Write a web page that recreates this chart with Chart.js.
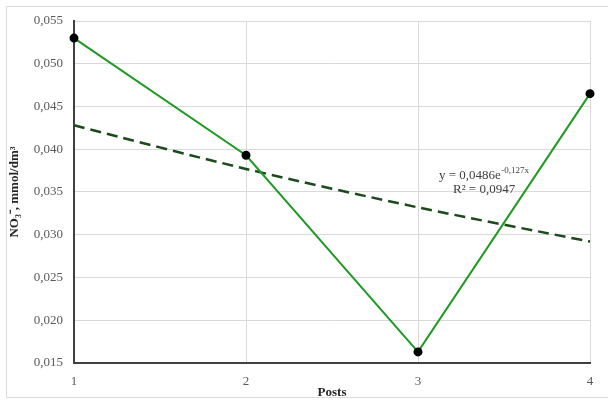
<!DOCTYPE html>
<html lang="en">
<head>
<meta charset="UTF-8">
<title>NO3- by posts</title>
<script src="https://cdn.jsdelivr.net/npm/chart.js"></script>
<style>
    body { margin: 0; background: #fff; }
    #wrap { width: 608px; height: 401px; }
</style>
</head>
<body>
<div id="wrap"><canvas id="no3Chart" width="608" height="401"></canvas></div>

<script>
    // values
    const posts = ['1', '2', '3', '4'];
    const no3Values = [0.0530, 0.0393, 0.0163, 0.0465];
    const trendValues = [0.0428, 0.0377, 0.0332, 0.0292]; // exponential trendline
    const yTicks = [0.015, 0.020, 0.025, 0.030, 0.035, 0.040, 0.045, 0.050, 0.055];

    const serif = "'Liberation Serif', 'Times New Roman', serif";

    // frame around the whole chart + trendline equation
    const decor = {
        id: 'decor',
        beforeDraw(chart) {
            const c = chart.ctx;
            c.save();
            c.fillStyle = '#fff';
            c.fillRect(0, 0, chart.width, chart.height);
            c.strokeStyle = '#d9d9d9';
            c.lineWidth = 1;
            c.beginPath();
            c.moveTo(chart.width, 6.5);
            c.lineTo(6.5, 6.5);
            c.lineTo(6.5, 397.5);
            c.lineTo(chart.width, 397.5);
            c.stroke();
            c.restore();
        },
        afterDraw(chart) {
            const c = chart.ctx;
            c.save();
            c.fillStyle = '#404040';
            c.textBaseline = 'alphabetic';
            c.font = '13px ' + serif;
            const main = 'y = 0,0486e';
            c.fillText(main, 439, 179);
            const w = c.measureText(main).width;
            c.font = '9px ' + serif;
            c.fillText('-0,127x', 439 + w + 0.5, 173);
            c.font = '13px ' + serif;
            c.fillText('R² = 0,0947', 453, 193);
            c.restore();
        }
    };

    new Chart(document.getElementById('no3Chart'), {
        type: 'line',
        data: {
            labels: posts,
            datasets: [{
                label: 'NO3-',
                data: no3Values,
                borderColor: '#1f9a23',
                borderWidth: 2,
                pointBackgroundColor: '#000',
                pointBorderColor: '#000',
                pointRadius: 3.5,
                tension: 0,
                order: 1
            }, {
                label: 'Trend',
                data: trendValues,
                borderColor: '#1b4a1b',
                borderWidth: 2.5,
                borderDash: [11, 6],
                pointRadius: 0,
                tension: 0.3,
                order: 2
            }]
        },
        options: {
            responsive: false,
            animation: false,
            layout: { padding: { left: 0, top: 21, right: 18, bottom: 0 } },
            plugins: {
                legend: { display: false },
                tooltip: { enabled: false }
            },
            scales: {
                x: {
                    offset: false,
                    afterFit(s) { s.height = 38; },
                    grid: { color: '#d9d9d9', drawTicks: false },
                    border: { color: '#404040', width: 2 },
                    ticks: { color: '#595959', padding: 11, maxRotation: 0, font: { family: serif, size: 13 } },
                    title: {
                        display: true,
                        text: 'Posts',
                        color: '#262626',
                        padding: { top: 0, bottom: 1 },
                        font: { family: serif, size: 13, weight: 'bold' }
                    }
                },
                y: {
                    min: 0.015,
                    max: 0.055,
                    afterFit(s) { s.width = 74; },
                    afterBuildTicks(s) { s.ticks = yTicks.map(v => ({ value: v })); },
                    grid: { color: '#d9d9d9', drawTicks: false },
                    border: { color: '#404040', width: 2 },
                    ticks: {
                        color: '#595959',
                        padding: 11,
                        font: { family: serif, size: 13 },
                        callback: v => v.toFixed(3).replace('.', ',')
                    },
                    title: {
                        display: true,
                        text: 'NO₃⁻, mmol/dm³',
                        color: '#262626',
                        padding: { top: 7, bottom: 0 },
                        font: { family: serif, size: 13, weight: 'bold' }
                    }
                }
            }
        },
        plugins: [decor]
    });
</script>
</body>
</html>
